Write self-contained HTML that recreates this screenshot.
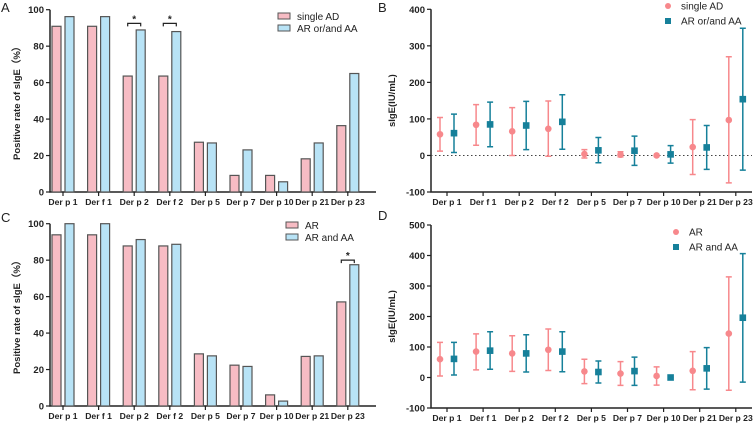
<!DOCTYPE html>
<html><head><meta charset="utf-8"><style>
html,body{margin:0;padding:0;background:#fff;}
svg{display:block;font-family:"Liberation Sans",Arial,sans-serif;}
</style></head><body>
<svg id="fig" width="753" height="423" viewBox="0 0 753 423"></svg>
<script>
const categories=["Der p 1","Der f 1","Der p 2","Der f 2","Der p 5","Der p 7","Der p 10","Der p 21","Der p 23"];
const barA1=[90.9,90.9,63.6,63.6,27.3,9.1,9.1,18.2,36.4];
const barA2=[96.2,96.2,88.9,88.0,26.9,23.1,5.6,26.9,65.0];
const barC1=[93.9,93.9,87.8,87.8,28.6,22.4,6.1,27.2,57.1];
const barC2=[100,100,91.3,88.7,27.5,21.7,2.7,27.5,77.5];
const ticksBar=[0,20,40,60,80,100];
const ticksB=[-100,0,100,200,300,400];
const ticksD=[-100,0,100,200,300,400,500];
const meanB1=[58,84,66,73,4,2,0,23,97];
const lowB1=[12,28,0,-2,-7,-4,0,-52,-75];
const highB1=[104,139,131,149,16,10,0,98,270];
const meanB2=[61,85,82,92,14,13,3,22,154];
const lowB2=[8,24,16,17,-20,-27,-21,-38,-40];
const highB2=[113,146,148,166,49,53,27,82,348];
const meanD1=[60,85,79,91,20,13,5,22,144];
const lowD1=[5,25,20,23,-20,-26,-25,-40,-42];
const highD1=[115,143,137,159,60,52,35,85,330];
const meanD2=[61,88,79,85,18,21,0,30,196];
const lowD2=[8,27,18,19,-18,-26,0,-38,-15];
const highD2=[115,150,140,150,54,67,0,98,406];

const NS="http://www.w3.org/2000/svg";
const svg=document.getElementById('fig');
function mk(tag,attrs,parent,txt){const e=document.createElementNS(NS,tag);for(const k in attrs)e.setAttribute(k,attrs[k]);if(txt!==undefined)e.textContent=txt;(parent||svg).appendChild(e);return e;}

function panel(cfg){
  const g=mk('g',{});
  
  
  const y=v=>cfg.y0+(v-cfg.vmin)/(cfg.vmax-cfg.vmin)*(cfg.y1-cfg.y0);
  const cx=i=>cfg.c0+i*cfg.step;
  const L=mk('text',{x:cfg.letterX,y:cfg.letterY,'font-size':13,fill:'#222'},g,cfg.letter);
  
  
  const ax=mk('path',{d:`M${cfg.ax} ${y(cfg.vmax)}V${cfg.y0}H${cfg.axEnd}`,stroke:'#222','stroke-width':1.5,fill:'none'},g);
  
  
  cfg.ticks.forEach(t=>{
    mk('line',{x1:cfg.ax-4,x2:cfg.ax,y1:y(t),y2:y(t),stroke:'#222','stroke-width':1.2},g);
    const tl=mk('text',{x:cfg.ax-6,y:y(t)+3.5,'font-size':9.5,'font-weight':'bold','text-anchor':'end',fill:'#222'},g,t);
    
    
  });
  categories.forEach((c,i)=>{
    mk('line',{x1:cx(i),x2:cx(i),y1:cfg.y0,y2:cfg.y0+4,stroke:'#222','stroke-width':1.2},g);
    const xl=mk('text',{x:cx(i),y:cfg.y0+13,'font-size':8.6,'font-weight':'bold','text-anchor':'middle',fill:'#222'},g,c);
    
    
  });
  const yt=mk('text',{x:0,y:0,'font-size':9.5,'font-weight':'bold','text-anchor':'middle',fill:'#222',transform:`translate(${cfg.ytX},${(cfg.y0+y(cfg.vmax))/2}) rotate(-90)`},g,cfg.ytitle);
  
  
  return {g,y,cx};
}

function barPanel(cfg,s1,s2,sig){
  const p=panel(cfg);
  const cols=['#f7bcc4','#b8e3f6'];
  [s1,s2].forEach((s,k)=>{
    s.forEach((v,i)=>{
      const x=p.cx(i)+(k===0?-11:2);
      const r=mk('rect',{x:x,y:p.y(v),width:9,height:p.y(0)-p.y(v),fill:cols[k],stroke:'#555','stroke-width':1.2},p.g);
      
      
    });
  });
  sig.forEach(([i,v])=>{
    const yy=p.y(v);
    const b=mk('path',{d:`M${p.cx(i)-6.5} ${yy+3}V${yy}H${p.cx(i)+6.5}V${yy+3}`,stroke:'#222','stroke-width':1.2,fill:'none'},p.g);
    
    
    const st=mk('text',{x:p.cx(i),y:yy-1,'font-size':10,'font-weight':'bold','text-anchor':'middle',fill:'#222'},p.g,'*');
    
    
  });
  cfg.legend.forEach((t,k)=>{
    const ly=cfg.legY+k*12;
    const sw=mk('rect',{x:cfg.legX,y:ly-4,width:12,height:6,fill:cols[k],stroke:'#555','stroke-width':1},p.g);
    
    
    const lt=mk('text',{x:cfg.legX+19,y:ly+3,'font-size':10,fill:'#222'},p.g,t);
    
    
  });
}

function errPanel(cfg,m1,l1,h1,m2,l2,h2){
  const p=panel(cfg);
  const cols=['#f7888c','#16809a'];
  if(cfg.zeroLine){
    const z=mk('line',{x1:cfg.ax,x2:cfg.axEnd,y1:p.y(0),y2:p.y(0),stroke:'#444','stroke-width':1,'stroke-dasharray':'1.5,2.5'},p.g);
    
    
  }
  [[m1,l1,h1],[m2,l2,h2]].forEach(([m,l,h],k)=>{
    m.forEach((v,i)=>{
      const x=p.cx(i)+(k===0?-7:7);
      const e=mk('path',{d:`M${x-3} ${p.y(h[i])}H${x+3}M${x} ${p.y(h[i])}V${p.y(l[i])}M${x-3} ${p.y(l[i])}H${x+3}`,stroke:cols[k],'stroke-width':1.5,fill:'none'},p.g);
      
      
      let mkr;
      if(k===0) mkr=mk('circle',{cx:x,cy:p.y(v),r:3.3,fill:cols[k]},p.g);
      else mkr=mk('rect',{x:x-3.3,y:p.y(v)-3.3,width:6.6,height:6.6,fill:cols[k]},p.g);
      
      
    });
  });
  cfg.legend.forEach((t,k)=>{
    const ly=cfg.legY+k*15;
    let m;
    if(k===0) m=mk('circle',{cx:cfg.legX,cy:ly,r:3,fill:cols[0]},p.g);
    else m=mk('rect',{x:cfg.legX-3,y:ly-3,width:6,height:6,fill:cols[1]},p.g);
    
    
    const lt=mk('text',{x:cfg.legX+13,y:ly+3.5,'font-size':10,fill:'#222'},p.g,t);
    
    
  });
}

barPanel({name:'panel-a-chart',letter:'A',letterX:1,letterY:12,ax:50,axEnd:376,y0:192,y1:9.7,vmin:0,vmax:100,ticks:ticksBar,c0:63,step:35.6,ytX:20,ytitle:'Positive rate of sIgE（%）',legX:278,legY:17,legend:['single AD','AR or/and AA']},barA1,barA2,[[2,92.5],[3,92.5]]);
barPanel({name:'panel-c-chart',letter:'C',letterX:1,letterY:222,ax:50,axEnd:376,y0:406,y1:223.7,vmin:0,vmax:100,ticks:ticksBar,c0:63,step:35.6,ytX:20,ytitle:'Positive rate of sIgE（%）',legX:286,legY:226,legend:['AR','AR and AA']},barC1,barC2,[[8,80]]);
errPanel({name:'panel-b-chart',letter:'B',letterX:378,letterY:12,ax:431,axEnd:752,y0:192,y1:9.3,vmin:-100,vmax:400,ticks:ticksB,c0:447,step:36.1,ytX:395,ytitle:'sIgE(IU/mL)',legX:668,legY:6,legend:['single AD','AR or/and AA'],zeroLine:true},meanB1,lowB1,highB1,meanB2,lowB2,highB2);
errPanel({name:'panel-d-chart',letter:'D',letterX:378,letterY:220,ax:431,axEnd:752,y0:408,y1:225,vmin:-100,vmax:500,ticks:ticksD,c0:447,step:36.1,ytX:395,ytitle:'sIgE(IU/mL)',legX:676,legY:232,legend:['AR','AR and AA'],zeroLine:false},meanD1,lowD1,highD1,meanD2,lowD2,highD2);
</script>
</body></html>
